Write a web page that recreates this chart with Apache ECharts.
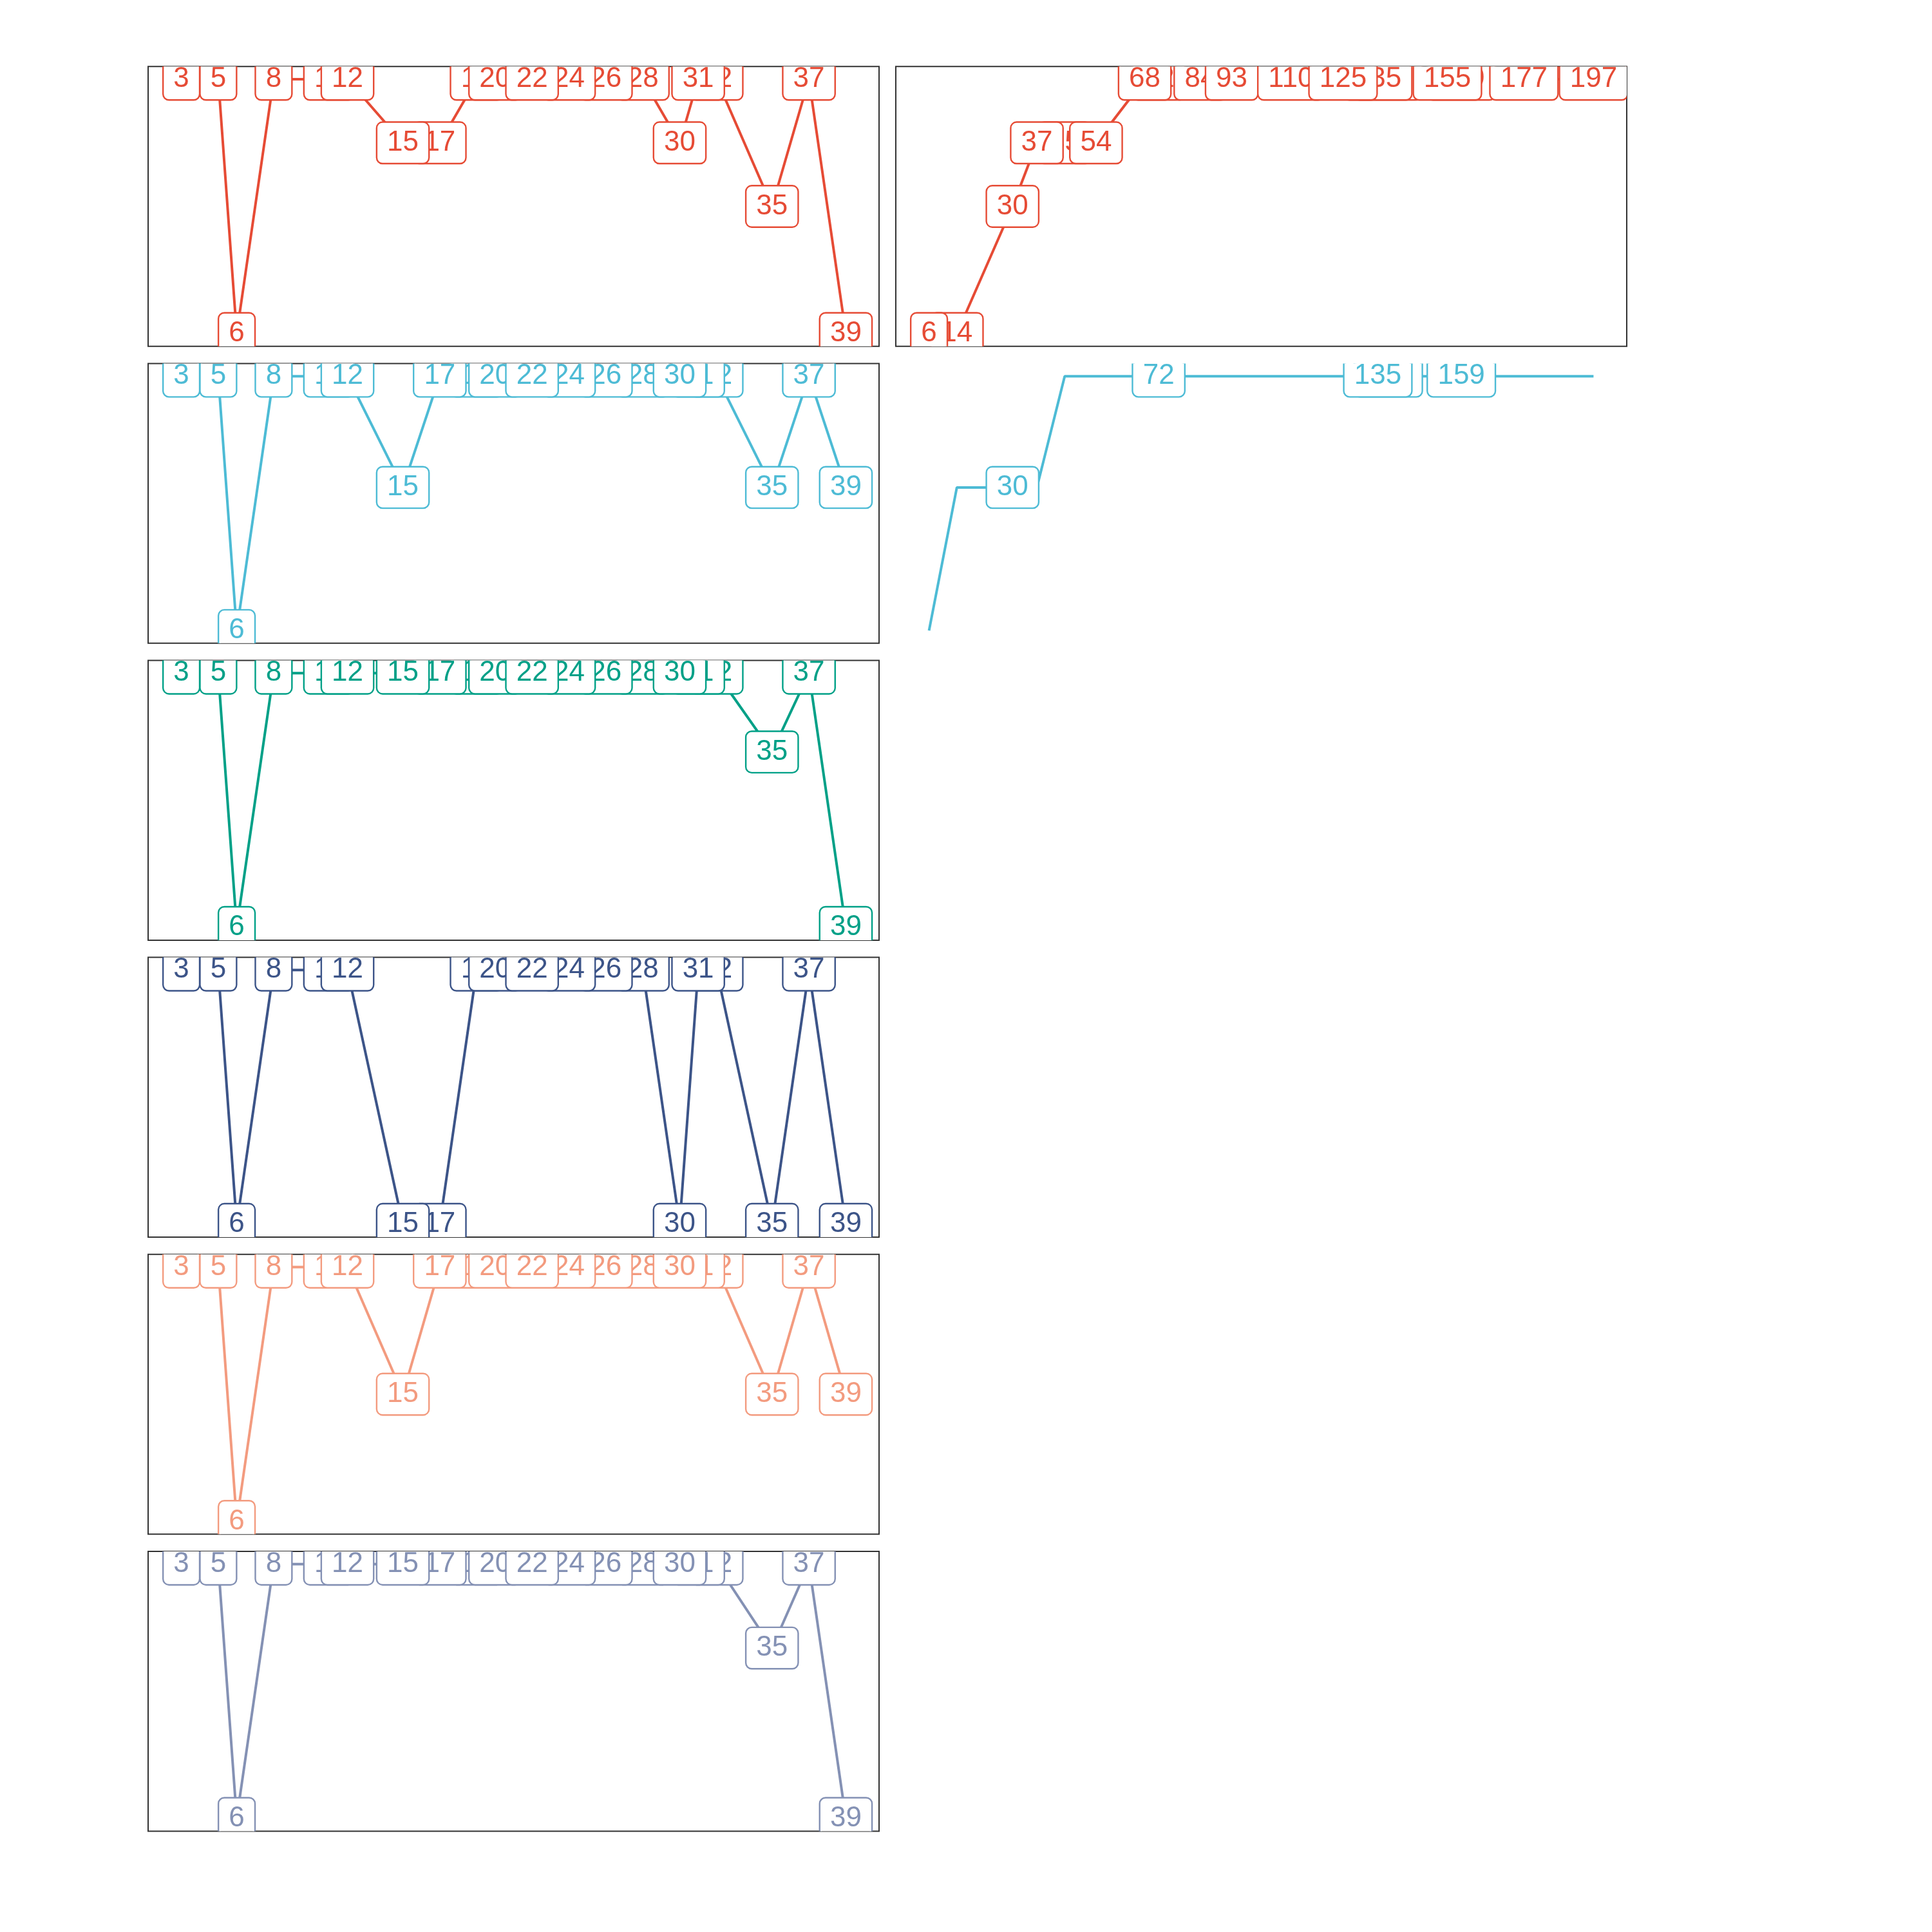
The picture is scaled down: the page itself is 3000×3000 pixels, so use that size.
<!DOCTYPE html>
<html>
<head>
<meta charset="utf-8">
<script src="https://cdn.jsdelivr.net/npm/echarts@6/dist/echarts.min.js"></script>
<style>
html,body{margin:0;padding:0;background:#ffffff;}
#chart{width:3000px;height:3000px;}
</style>
</head>
<body>
<div id="chart"></div>
<script>
// ---- data (listed in the order the labels are drawn) ----
const leftX      = [3, 5, 6, 8, 11, 12, 19, 17, 15, 20, 28, 26, 24, 22, 32, 31, 30, 35, 37, 39];
const redLeftY   = [4, 4, 0, 4, 4,  4,  4,  3,  3,  4,  4,  4,  4,  4,  4,  4,  3,  2,  4,  0];
const cyanLeftY  = [4, 4, 0, 4, 4,  4,  4,  4,  2.25, 4, 4, 4,  4,  4,  4,  4,  4,  2.25, 4, 2.25];
const tealLeftY  = [4, 4, 0, 4, 4,  4,  4,  4,  4,  4,  4,  4,  4,  4,  4,  4,  4,  2.76, 4, 0];
const navyLeftY  = [4, 4, 0, 4, 4,  4,  4,  0,  0,  4,  4,  4,  4,  4,  4,  4,  0,  0,  4,  0];
const salmonLeftY= [4, 4, 0, 4, 4,  4,  4,  4,  2,  4,  4,  4,  4,  4,  4,  4,  4,  2,  4,  2];
const greyLeftY  = [4, 4, 0, 4, 4,  4,  4,  4,  4,  4,  4,  4,  4,  4,  4,  4,  4,  2.68, 4, 0];

const rightX     = [14, 6, 30, 45, 37, 54, 72, 68, 84, 93, 110, 138, 135, 125, 159, 155, 177, 197];
const redRightY  = [0,  0, 2,  3,  3,  3,  4,  4,  4,  4,  4,   4,   4,   4,   4,   4,   4,   4];
const cyanRightY = [2.25, 0, 2.25, 4, 2.25, 4, 4, 4, 4, 4, 4,  4,   4,   4,   4,   4,   4,   4];
const cyanRightLabels = [30, 72, 138, 135, 159];

const palette = {
  red: '#E64B35', cyan: '#4DBBD5', teal: '#00A087',
  navy: '#3C5488', salmon: '#F39B7F', grey: '#8491B4'
};

// ---- layout ----
const colLeft = [230, 1391];
const colWidth = 1135;
const rowTop = [103.3, 564.4, 1025.5, 1486.6, 1947.8, 2409];
const rowHeight = 434.4;
const leftRange = [1.2, 40.8];
const rightRange = [-3.55, 206.55];
const yRange = [-0.2, 4.2];

const panels = [
  {row:0, col:0, xs:leftX,  ys:redLeftY,    color:palette.red,    frame:true},
  {row:1, col:0, xs:leftX,  ys:cyanLeftY,   color:palette.cyan,   frame:true},
  {row:2, col:0, xs:leftX,  ys:tealLeftY,   color:palette.teal,   frame:true},
  {row:3, col:0, xs:leftX,  ys:navyLeftY,   color:palette.navy,   frame:true},
  {row:4, col:0, xs:leftX,  ys:salmonLeftY, color:palette.salmon, frame:true},
  {row:5, col:0, xs:leftX,  ys:greyLeftY,   color:palette.grey,   frame:true},
  {row:0, col:1, xs:rightX, ys:redRightY,   color:palette.red,    frame:true},
  {row:1, col:1, xs:rightX, ys:cyanRightY,  color:palette.cyan,   frame:false, labels:cyanRightLabels}
];

const grid = [], xAxis = [], yAxis = [], series = [];
panels.forEach((p, i) => {
  grid.push({
    left: colLeft[p.col], top: rowTop[p.row], width: colWidth, height: rowHeight,
    show: p.frame, borderColor: '#333333', borderWidth: p.frame ? 2 : 0,
    backgroundColor: 'transparent', containLabel: false
  });
  const xr = p.col === 0 ? leftRange : rightRange;
  xAxis.push({type:'value', gridIndex:i, min:xr[0], max:xr[1], show:false});
  yAxis.push({type:'value', gridIndex:i, min:yRange[0], max:yRange[1], show:false});

  const pts = p.xs.map((x, k) => [x, p.ys[k]]);
  const linePts = pts.slice().sort((a, b) => a[0] - b[0]);
  series.push({
    type:'line', xAxisIndex:i, yAxisIndex:i, data:linePts,
    showSymbol:false, symbol:'none', clip:true, z:2,
    lineStyle:{color:p.color, width:4}, itemStyle:{color:p.color}
  });
  const labelPts = p.labels ? p.labels.map(v => pts.find(q => q[0] === v)) : pts;
  const col = p.color;
  series.push({
    type:'custom', xAxisIndex:i, yAxisIndex:i, data:labelPts, clip:true, z:3,
    encode:{x:0, y:1},
    renderItem: function(params, api) {
      const c = api.coord([api.value(0), api.value(1)]);
      return {
        type:'text', x:c[0], y:c[1],
        style:{
          text:String(api.value(0)), fill:col,
          fontSize:44, fontFamily:'"Liberation Sans", Arial, sans-serif', lineHeight:44,
          align:'center', verticalAlign:'middle',
          backgroundColor:'#ffffff', borderColor:col, borderWidth:2.4, borderRadius:8,
          padding:[9, 15]
        }
      };
    }
  });
});

const chart = echarts.init(document.getElementById('chart'), null, {renderer:'canvas'});
chart.setOption({
  animation:false,
  backgroundColor:'#ffffff',
  grid, xAxis, yAxis, series
});
</script>
</body>
</html>
